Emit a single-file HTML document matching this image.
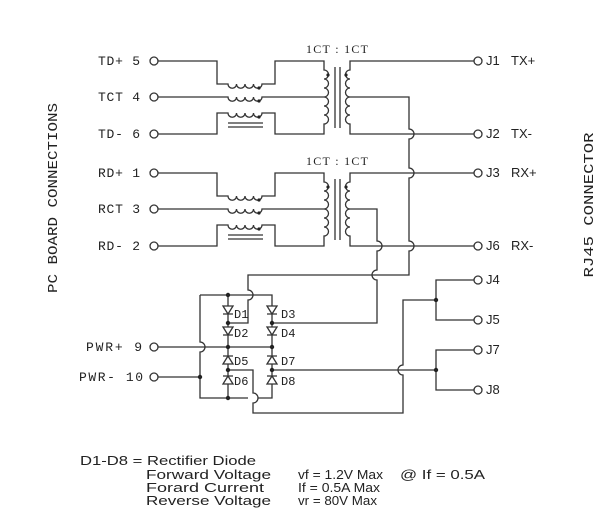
<!DOCTYPE html>
<html><head><meta charset="utf-8"><style>
html,body{margin:0;padding:0;background:#fff;}
svg{display:block;}
text{font-family:"Liberation Mono",monospace;fill:#222;}
.s{font-family:"Liberation Sans",sans-serif;}
</style></head><body>
<svg width="607" height="520" viewBox="0 0 607 520" xmlns="http://www.w3.org/2000/svg">
<g fill="none" stroke="#333" stroke-width="1.3">
<path d="M158,61 H217 V84 H228 a4.25,4.25 0 0 0 8.5,0 a4.25,4.25 0 0 0 8.5,0 a4.25,4.25 0 0 0 8.5,0 a4.25,4.25 0 0 0 8.5,0 H275 V61 H324 V70 a4.5,4.5 0 0 1 0,9 a4.5,4.5 0 0 1 0,9 a4.5,4.5 0 0 1 0,9 a4.5,4.5 0 0 1 0,9 a4.5,4.5 0 0 1 0,9 a4.5,4.5 0 0 1 0,9 V134 H275 V113 H262 a4.25,4.25 0 0 1 -8.5,0 a4.25,4.25 0 0 1 -8.5,0 a4.25,4.25 0 0 1 -8.5,0 a4.25,4.25 0 0 1 -8.5,0 H217 V134 H158"/>
<path d="M158,97 H228 a4.25,4.25 0 0 0 8.5,0 a4.25,4.25 0 0 0 8.5,0 a4.25,4.25 0 0 0 8.5,0 a4.25,4.25 0 0 0 8.5,0 H324"/>
<path d="M228,123 H263 M228,127 H263 M335,67 V128 M340,67 V128"/>
<path d="M474,61 H350 V70 a4.5,4.5 0 0 0 0,9 a4.5,4.5 0 0 0 0,9 a4.5,4.5 0 0 0 0,9 a4.5,4.5 0 0 0 0,9 a4.5,4.5 0 0 0 0,9 a4.5,4.5 0 0 0 0,9 V134 H474"/>
<g transform="translate(0,112)">
<path d="M158,61 H217 V84 H228 a4.25,4.25 0 0 0 8.5,0 a4.25,4.25 0 0 0 8.5,0 a4.25,4.25 0 0 0 8.5,0 a4.25,4.25 0 0 0 8.5,0 H275 V61 H324 V70 a4.5,4.5 0 0 1 0,9 a4.5,4.5 0 0 1 0,9 a4.5,4.5 0 0 1 0,9 a4.5,4.5 0 0 1 0,9 a4.5,4.5 0 0 1 0,9 a4.5,4.5 0 0 1 0,9 V134 H275 V113 H262 a4.25,4.25 0 0 1 -8.5,0 a4.25,4.25 0 0 1 -8.5,0 a4.25,4.25 0 0 1 -8.5,0 a4.25,4.25 0 0 1 -8.5,0 H217 V134 H158"/>
<path d="M158,97 H228 a4.25,4.25 0 0 0 8.5,0 a4.25,4.25 0 0 0 8.5,0 a4.25,4.25 0 0 0 8.5,0 a4.25,4.25 0 0 0 8.5,0 H324"/>
<path d="M228,123 H263 M228,127 H263 M335,67 V128 M340,67 V128"/>
<path d="M474,61 H350 V70 a4.5,4.5 0 0 0 0,9 a4.5,4.5 0 0 0 0,9 a4.5,4.5 0 0 0 0,9 a4.5,4.5 0 0 0 0,9 a4.5,4.5 0 0 0 0,9 a4.5,4.5 0 0 0 0,9 V134 H474"/>
</g>
<path d="M350,97 H409 V129 a5,5 0 0 1 0,10 V168 a5,5 0 0 1 0,10 V241 a5,5 0 0 1 0,10 V275 H248 V290 a5,5 0 0 1 0,10 V323 H228"/>
<path d="M350,209 H377 V241 a5,5 0 0 1 0,10 V270 a5,5 0 0 0 0,10 V323 H272"/>
<path d="M200,295 H272 V398 H258"/>
<path d="M248,398 H200 V352 a5,5 0 0 0 0,-10 V295"/>
<path d="M228,295 V398"/>
<path d="M158,347 H272 M158,377 H200"/>
<path d="M228,370 H253 V393 a5,5 0 0 1 0,10 V413 H403 V375 a5,5 0 0 1 0,-10 V300 H436"/>
<path d="M272,370 H436"/>
<path d="M474,280 H436 V320 H474 M474,350 H436 V390 H474"/>
<g fill="#fff">
<circle cx="154" cy="61" r="4"/><circle cx="154" cy="97" r="4"/><circle cx="154" cy="134" r="4"/>
<circle cx="154" cy="173" r="4"/><circle cx="154" cy="209" r="4"/><circle cx="154" cy="246" r="4"/>
<circle cx="154" cy="347" r="4"/><circle cx="154" cy="377" r="4"/>
<circle cx="478" cy="61" r="4"/><circle cx="478" cy="134" r="4"/><circle cx="478" cy="173" r="4"/><circle cx="478" cy="246" r="4"/>
<circle cx="478" cy="280" r="4"/><circle cx="478" cy="320" r="4"/><circle cx="478" cy="350" r="4"/><circle cx="478" cy="390" r="4"/>
</g>
<path fill="#fff" d="M223,306 H233 L228,314 Z M223,314 H233 M223,327 H233 L228,335 Z M223,335 H233 M267,306 H277 L272,314 Z M267,314 H277 M267,327 H277 L272,335 Z M267,335 H277 M223,364 H233 L228,356 Z M223,356 H233 M223,384 H233 L228,376 Z M223,376 H233 M267,364 H277 L272,356 Z M267,356 H277 M267,384 H277 L272,376 Z M267,376 H277"/>
</g>
<g fill="#222">
<circle cx="259" cy="88" r="1.6"/><circle cx="259" cy="101" r="1.6"/><circle cx="259" cy="117" r="1.6"/>
<circle cx="328" cy="75" r="1.6"/><circle cx="346" cy="75" r="1.6"/>
<circle cx="259" cy="200" r="1.6"/><circle cx="259" cy="213" r="1.6"/><circle cx="259" cy="229" r="1.6"/>
<circle cx="328" cy="187" r="1.6"/><circle cx="346" cy="187" r="1.6"/>
<circle cx="228" cy="295" r="2.2"/><circle cx="228" cy="323" r="2.2"/><circle cx="272" cy="323" r="2.2"/>
<circle cx="228" cy="347" r="2.2"/><circle cx="272" cy="347" r="2.2"/><circle cx="228" cy="370" r="2.2"/>
<circle cx="272" cy="370" r="2.2"/><circle cx="228" cy="398" r="2.2"/><circle cx="200" cy="377" r="2.2"/>
<circle cx="436" cy="300" r="2.2"/><circle cx="436" cy="370" r="2.2"/>
</g>
<g font-size="13">
<text x="337" y="53" text-anchor="middle" style="font-family:'Liberation Serif',serif" font-size="12" textLength="62" lengthAdjust="spacing">1CT : 1CT</text>
<text x="337" y="165" text-anchor="middle" style="font-family:'Liberation Serif',serif" font-size="12" textLength="62" lengthAdjust="spacing">1CT : 1CT</text>
<text x="98" y="65" textLength="42">TD+ 5</text>
<text x="98" y="101" textLength="42">TCT 4</text>
<text x="98" y="138" textLength="42">TD- 6</text>
<text x="98" y="177" textLength="42">RD+ 1</text>
<text x="98" y="213" textLength="42">RCT 3</text>
<text x="98" y="250" textLength="42">RD- 2</text>
<text x="86" y="351" textLength="56">PWR+ 9</text>
<text x="79" y="381" textLength="64">PWR- 10</text>
<text x="486" y="65" class="s">J1</text><text x="511" y="65" class="s">TX+</text>
<text x="486" y="138" class="s">J2</text><text x="511" y="138" class="s">TX-</text>
<text x="486" y="177" class="s">J3</text><text x="511" y="177" class="s">RX+</text>
<text x="486" y="250" class="s">J6</text><text x="511" y="250" class="s">RX-</text>
<text x="486" y="284" class="s">J4</text>
<text x="486" y="324" class="s">J5</text>
<text x="486" y="354" class="s">J7</text>
<text x="486" y="394" class="s">J8</text>
<text x="234" y="318" font-size="12">D1</text><text x="234" y="337" font-size="12">D2</text>
<text x="281" y="318" font-size="12">D3</text><text x="281" y="337" font-size="12">D4</text>
<text x="234" y="365" font-size="12">D5</text><text x="234" y="385" font-size="12">D6</text>
<text x="281" y="365" font-size="12">D7</text><text x="281" y="385" font-size="12">D8</text>
<text transform="translate(57,198) rotate(-90)" text-anchor="middle" font-size="14" textLength="190" lengthAdjust="spacingAndGlyphs">PC BOARD CONNECTIONS</text>
<text transform="translate(593,205) rotate(-90)" text-anchor="middle" font-size="14" textLength="145" lengthAdjust="spacingAndGlyphs">RJ45 CONNECTOR</text>
</g>
<g font-size="13" class="s">
<text x="80" y="465" class="s" textLength="176" lengthAdjust="spacingAndGlyphs">D1-D8 = Rectifier Diode</text>
<text x="146" y="479" class="s" textLength="125" lengthAdjust="spacingAndGlyphs">Forward Voltage</text>
<text x="146" y="492" class="s" textLength="118" lengthAdjust="spacingAndGlyphs">Forard Current</text>
<text x="146" y="505" class="s" textLength="125" lengthAdjust="spacingAndGlyphs">Reverse Voltage</text>
<text x="298" y="479" class="s" textLength="85" lengthAdjust="spacingAndGlyphs">vf = 1.2V Max</text>
<text x="400" y="479" class="s" textLength="85" lengthAdjust="spacingAndGlyphs">@ If = 0.5A</text>
<text x="298" y="492" class="s" textLength="82" lengthAdjust="spacingAndGlyphs">If = 0.5A Max</text>
<text x="298" y="505" class="s" textLength="79" lengthAdjust="spacingAndGlyphs">vr = 80V Max</text>
</g>
</svg>
</body></html>
